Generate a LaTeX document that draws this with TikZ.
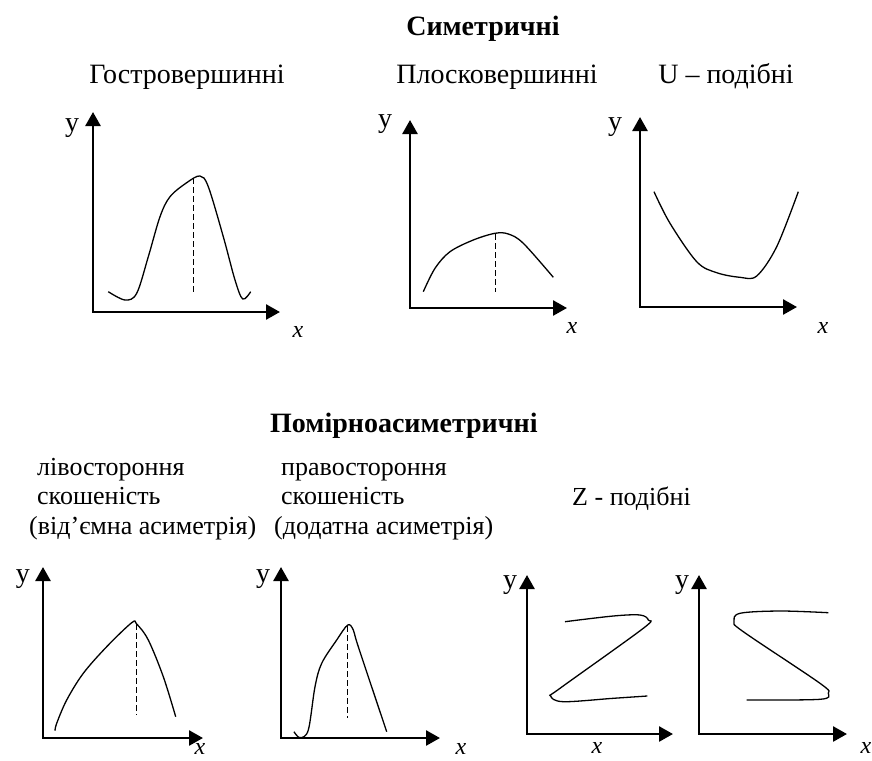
\documentclass[tikz,border=0pt]{standalone}
\usepackage{fontspec}
\setmainfont{Liberation Serif}
\usetikzlibrary{arrows.meta}
\tikzset{
	axes/.style ={arrows={Triangle[length=14pt,width=15pt]-Triangle[length=14pt,width=15pt]}, line width=2.6pt},
	curve/.style={line width=1.3pt, smooth, tension=0.55},
	mode/.style ={line width=1pt, dash pattern=on 6pt off 3pt},
	ttl/.style  ={font=\fontsize{28}{30}\selectfont\bfseries, anchor=base, inner sep=0pt},
	lbl/.style  ={font=\fontsize{28}{30}\selectfont, anchor=base, inner sep=0pt},
	lbll/.style ={font=\fontsize{26}{29}\selectfont, anchor=base west, inner sep=0pt},
	ylbl/.style ={font=\fontsize{28}{30}\selectfont, inner sep=0pt},
	xlbl/.style ={font=\fontsize{24}{26}\selectfont\itshape, inner sep=0pt},
}

\begin{document}
\begin{tikzpicture}[x=1pt, y=-1pt]
	\useasboundingbox (0,0) rectangle (872,760);
	% top row
	\node[ttl] (sym) at (483,36) {Симетричні};
	\node[lbl] (gostr) at (187,83) {Гостровершинні};
	\node[lbl] (plosk) at (497,83) {Плосковершинні};
	\node[lbl] (upod) at (726,83) {U – подібні};
	\draw[axes] (93,112) -- (93,312) -- (280,312);
	\draw[axes] (410,120) -- (410,308) -- (567,308);
	\draw[axes] (640,117) -- (640,307) -- (797,307);
	\node[ylbl] (y1) at (72,128) {y};
	\node[ylbl] (y2) at (385,124) {y};
	\node[ylbl] (y3) at (615,127) {y};
	\node[xlbl] (x1) at (298,332) {x};
	\node[xlbl] (x2) at (572,328) {x};
	\node[xlbl] (x3) at (823,328) {x};
	\draw[curve] plot coordinates {(108.3,291.7) (125,300) (136.7,293.3) (148.3,256.7) (160,216.7) (170,196.7) (186.7,182.7) (200,176) (208.3,186.7) (223.3,236.7) (235,280) (242.7,299) (250.7,291.7)};
	\draw[mode] (193,178) -- (193,292);
	\draw[curve] plot coordinates {(423.3,291.7) (435,268.3) (450,251.7) (473.3,240) (495,233.3) (508.3,234) (523.3,243.3) (553.3,277.3)};
	\draw[mode] (495,234) -- (495,292);
	\draw[curve] plot coordinates {(654,191.7) (670,223.3) (696.7,261.7) (716.7,272.7) (740,277.3) (756.7,276) (776.7,246.7) (798.3,191.7)};
	% bottom row
	\node[ttl, anchor=base west] (pomir) at (270,432) {Помірноасиметричні};
	\node[lbll] (liv1) at (37,475) {лівостороння};
	\node[lbll] (liv2) at (37,504) {скошеність};
	\node[lbll] (liv3) at (29,534) {(від’ємна асиметрія)};
	\node[lbll] (prav1) at (281,475) {правостороння};
	\node[lbll] (prav2) at (281,504) {скошеність};
	\node[lbll] (prav3) at (274,534) {(додатна асиметрія)};
	\node[lbll] (zpod) at (572,505) {Z - подібні};
	\draw[axes] (43,567) -- (43,738) -- (203,738);
	\draw[axes] (281,567) -- (281,738) -- (440,738);
	\draw[axes] (527,575) -- (527,734) -- (673,734);
	\draw[axes] (699,575) -- (699,734) -- (847,734);
	\node[ylbl] (y4) at (23,579) {y};
	\node[ylbl] (y5) at (263,579) {y};
	\node[ylbl] (y6) at (510,585) {y};
	\node[ylbl] (y7) at (682,585) {y};
	\node[xlbl] (x4) at (200,749) {x};
	\node[xlbl] (x5) at (461,749) {x};
	\node[xlbl] (x6) at (597,748) {x};
	\node[xlbl] (x7) at (866,748) {x};
	\draw[curve] plot coordinates {(55,730.7) (56.7,723.3) (66.7,700) (83.3,673.3) (106.7,646.7) (131.7,622.7) (136.7,624) (148.3,640) (163.3,676.7) (175.7,716.7)};
	\draw[mode] (136,624) -- (136,715);
	\draw[curve] plot coordinates {(294,731.7) (300,737.7) (308.3,730) (315,686.7) (321.7,663.3) (336.7,640) (347.7,625) (353.3,630) (358.3,646.7) (386.7,731.7)};
	\draw[mode] (347.3,626) -- (347.3,718);
	\draw[curve] plot coordinates {(565,621.7) (613.3,616) (640,615) (648.3,620) (643.3,628.3) (560,688.3) (550.7,696) (563.3,701.7) (613.3,698.3) (647.3,696)};
	\draw[curve] plot coordinates {(828.3,612.7) (780,611) (740,613.3) (734,621.7) (743.3,631.7) (820,683.3) (828.3,693.3) (820,699.3) (746.7,700)};
\end{tikzpicture}
\end{document}
